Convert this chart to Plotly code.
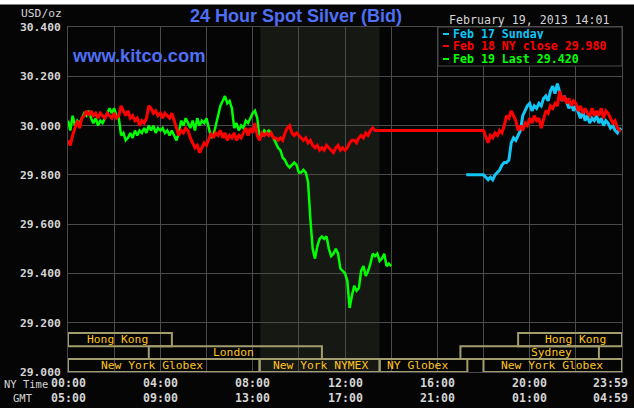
import plotly.graph_objects as go

# ---------------- data ----------------
# Feb 19 (green), every 0.1 h from 00:00 NY time
green_v = [30.02, 29.98, 30.04, 30.00, 30.02, 30.01, 30.03, 30.05, 30.04, 30.06,
           30.03, 30.01, 30.03, 30.00, 30.02, 30.01, 30.03, 30.05, 30.07, 30.05,
           30.07, 30.04, 30.03, 29.96, 29.97, 29.94, 29.95, 29.97, 29.95, 29.98,
           29.96, 29.98, 29.97, 29.99, 29.97, 30.00, 29.98, 30.00, 29.97, 29.99,
           29.98, 29.99, 29.97, 29.98, 29.96, 29.98, 29.96, 29.94, 29.97, 30.02,
           30.00, 30.03, 30.01, 29.99, 30.02, 29.98, 30.03, 30.00, 30.02, 30.01,
           30.03, 29.99, 29.95, 29.96, 30.00, 30.04, 30.08, 30.10, 30.12, 30.09,
           30.10, 30.07, 29.99, 30.01, 29.98, 30.00, 29.99, 30.02, 30.01, 30.03,
           30.05, 30.06, 30.03, 29.95, 29.96, 29.98, 29.97, 29.98, 29.97, 29.95,
           29.93, 29.91, 29.90, 29.87, 29.86, 29.84, 29.83, 29.84, 29.85, 29.84,
           29.81, 29.81, 29.82, 29.81, 29.77, 29.62, 29.50, 29.46, 29.51, 29.54,
           29.55, 29.54, 29.55, 29.50, 29.47, 29.48, 29.50, 29.48, 29.42, 29.41,
           29.40, 29.37, 29.26, 29.31, 29.35, 29.33, 29.34, 29.41, 29.43, 29.39,
           29.41, 29.44, 29.48, 29.47, 29.48, 29.45, 29.46, 29.48, 29.43, 29.44,
           29.43]
green_t = [round(i * 0.1, 2) for i in range(len(green_v))]

# Feb 18 (red): session part 00:00-13:18, then NY close flat, then evening 18:00-24:00
red_v1 = [29.94, 29.92, 29.96, 29.99, 30.02, 29.99, 30.03, 30.04, 30.06, 30.04,
          30.06, 30.04, 30.05, 30.03, 30.05, 30.04, 30.03, 30.05, 30.04, 30.03,
          30.05, 30.03, 30.04, 30.08, 30.06, 30.04, 30.06, 30.03, 30.04, 30.02,
          30.03, 30.00, 30.02, 30.01, 30.03, 30.08, 30.07, 30.05, 30.06, 30.04,
          30.05, 30.03, 30.05, 30.04, 30.03, 30.05, 30.02, 29.99, 29.96, 29.98,
          29.97, 29.99, 29.98, 29.95, 29.93, 29.91, 29.92, 29.89, 29.91, 29.93,
          29.92, 29.95, 29.97, 29.95, 29.97, 29.96, 29.98, 29.95, 29.97, 29.94,
          29.96, 29.95, 29.97, 29.94, 29.96, 29.95, 29.97, 29.99, 29.96, 29.99,
          29.97, 30.01, 29.96, 29.94, 29.97, 29.96, 29.97, 29.96, 29.97, 29.95,
          29.95, 29.94, 29.95, 29.94, 29.97, 29.99, 30.00, 29.97, 29.96, 29.97,
          29.96, 29.95, 29.94, 29.95, 29.93, 29.94, 29.92, 29.91, 29.92, 29.90,
          29.91, 29.90, 29.92, 29.91, 29.90, 29.89, 29.91, 29.92, 29.90, 29.91,
          29.90, 29.91, 29.93, 29.94, 29.94, 29.93, 29.95, 29.96, 29.95, 29.97,
          29.96, 29.98, 29.99, 29.98]
red_v2 = [29.98, 29.95, 29.93, 29.96, 29.95, 29.97, 29.96, 29.98, 29.97, 30.00,
          30.04, 30.03, 30.06, 30.04, 30.02, 29.98, 30.00, 29.98, 30.01, 30.00,
          30.03, 30.01, 30.04, 30.02, 30.03, 29.99, 30.03, 30.06, 30.05, 30.08,
          30.07, 30.09, 30.08, 30.14, 30.10, 30.12, 30.09, 30.11, 30.08, 30.10,
          30.09, 30.06, 30.08, 30.05, 30.07, 30.05, 30.04, 30.07, 30.04, 30.06,
          30.04, 30.07, 30.03, 30.06, 30.05, 30.03, 30.01, 30.02, 29.99, 29.98,
          29.98]
red_t = ([round(i * 0.1, 2) for i in range(len(red_v1))]
         + [round(18.0 + i * 0.1, 2) for i in range(len(red_v2) - 1)] + [23.95])
red_v = red_v1 + red_v2

# Feb 17 Sunday (cyan): opens 17:15 flat, trading from 18:00
cyan_v = [29.80,
          29.80, 29.79, 29.78, 29.79, 29.78, 29.80, 29.81, 29.82, 29.84, 29.85,
          29.85, 29.86, 29.93, 29.95, 29.94, 29.96, 29.98, 30.04, 30.06, 30.08,
          30.09, 30.06, 30.08, 30.07, 30.09, 30.08, 30.11, 30.12, 30.10, 30.14,
          30.16, 30.13, 30.17, 30.14, 30.10, 30.12, 30.09, 30.07, 30.09, 30.06,
          30.08, 30.05, 30.03, 30.06, 30.02, 30.04, 30.01, 30.03, 30.02, 30.04,
          30.01, 30.03, 30.00, 30.02, 30.01, 29.99, 30.00, 29.98, 29.97, 29.99,
          29.98]
cyan_t = [17.25] + [round(18.0 + i * 0.1, 2) for i in range(len(cyan_v) - 2)] + [23.95]

y_tick_vals = [29.0, 29.2, 29.4, 29.6, 29.8, 30.0, 30.2, 30.4]
y_tick_labels = ["29.000", "29.200", "29.400", "29.600", "29.800", "30.000", "30.200", "30.400"]

x_label_pos = [0, 4, 8, 12, 16, 20, 23.48]
ny_labels = ["00:00", "04:00", "08:00", "12:00", "16:00", "20:00", "23:59"]
gmt_labels = ["05:00", "09:00", "13:00", "17:00", "21:00", "01:00", "04:59"]

market_names = ["Hong Kong", "London", "New York Globex", "New York NYMEX",
                "NY Globex", "New York Globex", "Sydney", "Hong Kong"]
market_start = [0.0, 3.5, 0.0, 8.3, 13.5, 18.0, 17.0, 19.5]
market_end = [4.5, 11.0, 8.3, 13.5, 17.3, 24.0, 23.0, 24.0]
market_row = [2, 1, 0, 0, 0, 0, 1, 2]
market_text_x = [2.14, 7.15, 3.64, 10.92, 15.16, 20.97, 20.93, 22.0]
row_edges = [29.0, 29.053, 29.105, 29.158]

nymex_session = [8.33, 13.5]

legend_texts = ["Feb 17 Sunday", "Feb 18 NY close 29.980", "Feb 19 Last 29.420"]

# ---------------- styling ----------------
W, H = 634, 408
L, R, T, B = 68, 12, 27, 36
PW, PH = W - L - R, H - T - B
BG = "#050505"
GRID = "#4a4a4a"
MONO = "DejaVu Sans Mono"
LABEL = "#d4d4d4"
BLUE = "#4f6ff5"
GOLD = "#ffc41f"
KHAKI = "#a29d6c"
C_CYAN = "#12c6f6"
C_RED = "#ff0000"
C_GREEN = "#00ff00"


def px_x(p):
    return (p - L) / PW


def px_y(p):
    return (H - B - p) / PH


fig = go.Figure()
fig.add_trace(go.Scatter(x=cyan_t, y=cyan_v, mode="lines", line=dict(color=C_CYAN, width=3),
                         showlegend=False, hoverinfo="skip"))
fig.add_trace(go.Scatter(x=green_t, y=green_v, mode="lines", line=dict(color=C_GREEN, width=2.5),
                         showlegend=False, hoverinfo="skip"))
fig.add_trace(go.Scatter(x=red_t, y=red_v, mode="lines", line=dict(color=C_RED, width=3),
                         showlegend=False, hoverinfo="skip"))

shapes = []
# NYMEX session shading
shapes.append(dict(type="rect", xref="x", yref="paper", x0=nymex_session[0], x1=nymex_session[1],
                   y0=0, y1=1, fillcolor="#161814", line=dict(width=0), layer="below"))
# market boxes
for s, e, r in zip(market_start, market_end, market_row):
    shapes.append(dict(type="rect", xref="x", yref="y", x0=s, x1=e,
                       y0=row_edges[r], y1=row_edges[r + 1],
                       fillcolor="rgba(0,0,0,0)", line=dict(color=KHAKI, width=2), layer="above"))
# legend box
shapes.append(dict(type="rect", xref="paper", yref="paper", x0=px_x(438), x1=1.0,
                   y0=px_y(66), y1=1.0, fillcolor=BG, line=dict(color=GRID, width=1), layer="above"))
# legend dashes
for col, yy in zip([C_CYAN, C_RED, C_GREEN], [34, 46, 59]):
    shapes.append(dict(type="line", xref="paper", yref="paper", x0=px_x(443), x1=px_x(449),
                       y0=px_y(yy), y1=px_y(yy), line=dict(color=col, width=2), layer="above"))
# white band at the very top
shapes.append(dict(type="rect", xref="paper", yref="paper", x0=px_x(-5), x1=px_x(640),
                   y0=px_y(4.5), y1=px_y(-5), fillcolor="#ffffff", line=dict(width=0), layer="above"))

ann = []
ann.append(dict(text="24 Hour Spot Silver (Bid)", xref="paper", yref="paper", x=px_x(296), y=px_y(16),
                xanchor="center", yanchor="middle", showarrow=False,
                font=dict(family="Liberation Sans", size=18, color=BLUE, weight="bold")))
ann.append(dict(text="www.kitco.com", xref="paper", yref="paper", x=px_x(70), y=px_y(55),
                xanchor="left", yanchor="middle", showarrow=False,
                font=dict(family="Liberation Sans", size=18.3, color=BLUE, weight="bold")))
ann.append(dict(text="February 19, 2013 14:01", xref="paper", yref="paper", x=px_x(529.5), y=px_y(20),
                xanchor="center", yanchor="middle", showarrow=False,
                font=dict(family=MONO, size=11.6, color=LABEL)))
ann.append(dict(text="USD/oz", xref="paper", yref="paper", x=px_x(64), y=px_y(13),
                xanchor="right", yanchor="middle", showarrow=False,
                font=dict(family=MONO, size=11.3, color=LABEL)))
for txt, col, yy in zip(legend_texts, [C_CYAN, C_RED, C_GREEN], [34, 46, 59]):
    ann.append(dict(text=txt, xref="paper", yref="paper", x=px_x(452), y=px_y(yy),
                    xanchor="left", yanchor="middle", showarrow=False, borderpad=0, height=11,
                    font=dict(family=MONO, size=11.6, color=col, weight="bold")))
for xp, a, b in zip(x_label_pos, ny_labels, gmt_labels):
    ann.append(dict(text=a, xref="x", yref="paper", x=xp, y=px_y(383), xanchor="center",
                    yanchor="middle", showarrow=False,
                    font=dict(family=MONO, size=11.6, color=LABEL, weight="bold")))
    ann.append(dict(text=b, xref="x", yref="paper", x=xp, y=px_y(398), xanchor="center",
                    yanchor="middle", showarrow=False,
                    font=dict(family=MONO, size=11.6, color=LABEL, weight="bold")))
ann.append(dict(text="NY Time", xref="paper", yref="paper", x=px_x(26), y=px_y(384),
                xanchor="center", yanchor="middle", showarrow=False,
                font=dict(family=MONO, size=10.5, color=LABEL)))
ann.append(dict(text="GMT", xref="paper", yref="paper", x=px_x(23), y=px_y(398),
                xanchor="center", yanchor="middle", showarrow=False,
                font=dict(family=MONO, size=10.5, color=LABEL)))
for name, tx, r in zip(market_names, market_text_x, market_row):
    ann.append(dict(text=name, xref="x", yref="y", x=tx, y=(row_edges[r] + row_edges[r + 1]) / 2,
                    xanchor="center", yanchor="middle", showarrow=False,
                    font=dict(family=MONO, size=11.3, color=GOLD)))

fig.update_layout(
    width=W, height=H,
    margin=dict(l=L, r=R, t=T, b=B, pad=0),
    paper_bgcolor=BG, plot_bgcolor=BG,
    shapes=shapes, annotations=ann,
    showlegend=False,
    xaxis=dict(range=[0, 24], tickmode="array", tickvals=list(range(0, 25, 2)),
               showticklabels=False, ticks="", showgrid=True, gridcolor=GRID, gridwidth=1,
               zeroline=False, showline=True, mirror=True, linecolor=GRID, linewidth=1,
               fixedrange=True),
    yaxis=dict(range=[29.0, 30.4], tickmode="array", tickvals=y_tick_vals, ticktext=y_tick_labels,
               ticks="", showgrid=True, gridcolor=GRID, gridwidth=1, zeroline=False,
               showline=True, mirror=True, linecolor=GRID, linewidth=1, ticklabelstandoff=4,
               tickfont=dict(family=MONO, size=11.3, color=LABEL, weight="bold"),
               fixedrange=True),
)

fig.write_html("out.html", config={"displayModeBar": False},
               post_script="document.body.style.margin='0';document.body.style.background='#050505';")
